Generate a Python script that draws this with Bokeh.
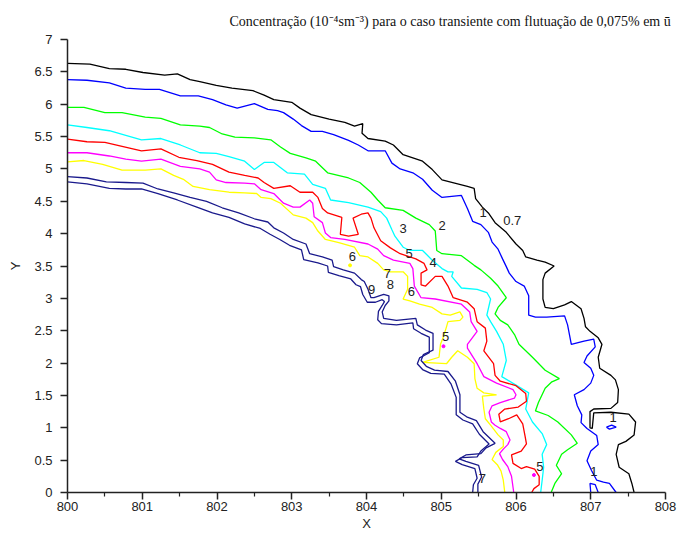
from bokeh.plotting import figure
from bokeh.models import FixedTicker, CustomJSTickFormatter
from bokeh.core.properties import value
from bokeh.embed import file_html
from bokeh.resources import INLINE

# ---- contour level 0.7 (black)
c07_x = [800.00, 800.30, 800.56, 800.78, 801.01, 801.30, 801.47, 801.64, 801.77, 801.99, 802.20, 802.48, 802.63, 802.76,
         803.00, 803.11, 803.26, 803.50, 803.71, 803.84, 803.95, 803.94, 804.02, 804.25, 804.36, 804.49, 804.62, 804.75,
         804.88, 805.01, 805.18, 805.35, 805.44, 805.46, 805.55, 805.63, 805.72, 805.87, 806.00, 806.09, 806.13, 806.28,
         806.39, 806.51, 806.39, 806.36, 806.36, 806.39, 806.50, 806.65, 806.74, 806.87, 806.91, 806.93, 806.99, 807.10,
         807.15, 807.10, 807.12, 807.27, 807.33, 807.37, 807.36, 807.27, 807.04, 806.99, 806.99, 807.02, 807.04, 807.27,
         807.51, 807.60, 807.58, 807.47, 807.37, 807.34, 807.38, 807.51, 807.55, 807.58]
c07_y = [6.63, 6.62, 6.55, 6.54, 6.49, 6.45, 6.47, 6.38, 6.35, 6.29, 6.25, 6.21, 6.14, 6.07,
         6.03, 5.94, 5.84, 5.77, 5.72, 5.66, 5.70, 5.55, 5.47, 5.43, 5.37, 5.22, 5.17, 5.12,
         4.99, 4.83, 4.78, 4.73, 4.70, 4.54, 4.41, 4.32, 4.17, 4.02, 3.84, 3.74, 3.64, 3.59,
         3.56, 3.50, 3.39, 3.29, 2.99, 2.86, 2.84, 2.90, 2.95, 2.84, 2.69, 2.56, 2.49, 2.39,
         2.29, 2.09, 1.92, 1.81, 1.74, 1.59, 1.39, 1.30, 1.29, 1.25, 1.00, 0.99, 1.23, 1.24,
         1.21, 1.09, 0.89, 0.79, 0.74, 0.59, 0.39, 0.29, 0.14, 0.00]

# ---- contour level 1 (blue)
c1_x = [800.00, 800.26, 800.56, 800.78, 801.04, 801.23, 801.51, 801.75, 801.94, 802.12, 802.27, 802.50, 802.68, 802.81,
        802.89, 803.02, 803.13, 803.26, 803.41, 803.56, 803.76, 803.89, 804.02, 804.25, 804.34, 804.45, 804.62, 804.75,
        804.88, 805.01, 805.27, 805.35, 805.42, 805.53, 805.63, 805.68, 805.76, 805.82, 805.87, 805.91, 806.00, 806.11,
        806.17, 806.17, 806.26, 806.41, 806.65, 806.69, 806.74, 806.91, 807.04, 807.06, 806.95, 806.91, 807.00, 807.04,
        807.00, 806.91, 806.78, 806.82, 806.88, 806.87, 806.95, 807.08, 807.10, 807.00, 806.95, 807.01, 807.08, 807.17,
        807.25, 807.34]
c1_y = [6.38, 6.37, 6.33, 6.25, 6.23, 6.23, 6.13, 6.13, 6.07, 5.99, 5.94, 6.01, 5.92, 5.90,
        5.87, 5.77, 5.67, 5.58, 5.58, 5.53, 5.44, 5.37, 5.28, 5.28, 5.09, 5.00, 4.94, 4.84,
        4.67, 4.56, 4.59, 4.39, 4.19, 4.14, 4.02, 3.87, 3.76, 3.61, 3.49, 3.39, 3.26, 3.19,
        3.04, 2.74, 2.71, 2.71, 2.73, 2.59, 2.29, 2.34, 2.37, 2.25, 2.11, 2.01, 1.92, 1.81,
        1.69, 1.59, 1.51, 1.34, 1.20, 1.08, 0.99, 0.88, 0.74, 0.64, 0.49, 0.34, 0.19, 0.16,
        0.14, 0.00]
c1b_x = [807.21, 807.28, 807.34, 807.25, 807.21]
c1b_y = [1.01, 1.04, 1.01, 0.98, 1.01]
c1c_x = [807.00, 806.99, 807.06, 807.10]
c1c_y = [0.00, 0.14, 0.12, 0.00]

# ---- contour level 2 (green)
c2_x = [800.00, 800.22, 800.50, 800.73, 801.04, 801.25, 801.51, 801.77, 801.90, 802.07, 802.24, 802.50, 802.72, 802.85,
        802.98, 803.19, 803.32, 803.48, 803.76, 803.91, 804.06, 804.15, 804.25, 804.49, 804.66, 804.84, 804.92, 804.94,
        805.01, 805.27, 805.44, 805.53, 805.66, 805.76, 805.87, 805.76, 805.72, 805.79, 805.89, 805.98, 806.04, 806.22,
        806.39, 806.58, 806.48, 806.39, 806.30, 806.26, 806.43, 806.56, 806.74, 806.82, 806.69, 806.61, 806.54, 806.61,
        806.52, 806.47]
c2_y = [5.95, 5.95, 5.87, 5.87, 5.80, 5.78, 5.68, 5.66, 5.64, 5.54, 5.49, 5.48, 5.45, 5.34,
        5.24, 5.17, 5.12, 4.94, 4.86, 4.79, 4.64, 4.52, 4.40, 4.36, 4.24, 4.14, 4.04, 3.74,
        3.69, 3.66, 3.51, 3.44, 3.31, 3.19, 3.01, 2.86, 2.76, 2.66, 2.59, 2.44, 2.29, 2.09,
        1.89, 1.76, 1.71, 1.61, 1.39, 1.26, 1.19, 1.09, 0.89, 0.76, 0.66, 0.59, 0.42, 0.29,
        0.14, 0.00]

# ---- contour level 3 (cyan)
c3_x = [800.00, 800.26, 800.56, 800.78, 800.99, 801.25, 801.51, 801.77, 801.99, 802.16, 802.37, 802.50, 802.63, 802.76,
        802.94, 803.17, 803.28, 803.45, 803.52, 803.76, 804.02, 804.19, 804.27, 804.34, 804.38, 804.49, 804.58, 804.75,
        804.88, 805.01, 805.09, 805.16, 805.14, 805.27, 805.48, 805.61, 805.66, 805.61, 805.66, 805.74, 805.83, 805.87,
        805.81, 806.00, 806.17, 806.13, 806.22, 806.35, 806.41, 806.35, 806.37, 806.35, 806.33]
c3_y = [5.68, 5.64, 5.59, 5.52, 5.45, 5.47, 5.37, 5.25, 5.24, 5.19, 5.12, 4.99, 5.10, 5.10,
        4.94, 4.92, 4.76, 4.70, 4.52, 4.48, 4.41, 4.34, 4.24, 4.06, 3.96, 3.79, 3.74, 3.74,
        3.59, 3.46, 3.41, 3.41, 3.34, 3.16, 3.14, 3.09, 2.99, 2.74, 2.64, 2.49, 2.29, 2.04,
        1.79, 1.66, 1.54, 1.29, 1.09, 0.91, 0.74, 0.59, 0.39, 0.19, 0.00]

# ---- contour level 4 (red)
c4_x = [800.00, 800.26, 800.50, 800.73, 800.99, 801.25, 801.49, 801.73, 801.94, 802.16, 802.37, 802.55, 802.63, 802.76,
        802.98, 803.11, 803.28, 803.35, 803.41, 803.48, 803.67, 803.65, 803.76, 803.89, 803.82, 803.93, 804.02, 804.06,
        804.10, 804.19, 804.32, 804.45, 804.66, 804.77, 804.81, 804.73, 804.73, 804.79, 804.92, 805.01, 805.09, 805.16,
        805.35, 805.44, 805.48, 805.59, 805.61, 805.57, 805.70, 805.72, 805.79, 806.00, 806.13, 806.14, 806.03, 805.85,
        805.77, 805.79, 805.90, 806.01, 806.09, 806.12, 806.14, 806.07, 805.94, 805.96, 806.07, 806.14, 806.25, 806.31,
        806.31, 806.24, 806.21]
c4_y = [5.46, 5.42, 5.41, 5.35, 5.28, 5.31, 5.18, 5.13, 5.07, 4.95, 4.90, 4.86, 4.79, 4.70,
        4.74, 4.64, 4.64, 4.56, 4.39, 4.32, 4.25, 3.99, 3.96, 3.99, 4.24, 4.30, 4.32, 4.24,
        4.09, 3.89, 3.78, 3.69, 3.61, 3.54, 3.44, 3.39, 3.21, 3.19, 3.34, 3.34, 3.19, 3.01,
        2.94, 2.84, 2.64, 2.54, 2.34, 2.19, 1.99, 1.81, 1.72, 1.65, 1.53, 1.41, 1.32, 1.29,
        1.21, 1.09, 1.14, 1.20, 1.06, 0.88, 0.75, 0.64, 0.58, 0.45, 0.37, 0.40, 0.36, 0.25,
        0.12, 0.06, 0.00]

# ---- contour level 5 (magenta)
c5_x = [800.00, 800.26, 800.56, 800.78, 800.99, 801.25, 801.51, 801.77, 801.90, 801.99, 802.12, 802.37, 802.50, 802.59,
        802.76, 802.89, 803.02, 803.11, 803.24, 803.28, 803.30, 803.41, 803.45, 803.52, 803.71, 804.02, 804.15, 804.23,
        804.36, 804.58, 804.62, 804.64, 804.73, 804.92, 805.27, 805.38, 805.40, 805.48, 805.35, 805.35, 805.48, 805.57,
        805.74, 805.96, 806.00, 805.98, 805.79, 805.68, 805.64, 805.67, 805.72, 805.79, 805.87, 805.92, 805.89, 805.83,
        805.78, 805.82, 805.89, 805.94, 805.97]
c5_y = [5.25, 5.25, 5.20, 5.15, 5.12, 5.15, 5.04, 5.00, 4.95, 4.83, 4.79, 4.78, 4.77, 4.68,
        4.62, 4.47, 4.41, 4.41, 4.52, 4.47, 4.26, 4.17, 4.01, 3.94, 3.91, 3.84, 3.76, 3.66,
        3.59, 3.54, 3.46, 3.19, 3.01, 2.99, 2.91, 2.79, 2.64, 2.49, 2.29, 2.23, 1.99, 1.79,
        1.69, 1.59, 1.51, 1.46, 1.39, 1.34, 1.24, 1.09, 1.04, 0.99, 0.94, 0.81, 0.74, 0.67,
        0.60, 0.51, 0.40, 0.25, 0.00]
c5_dots_x = [805.03, 806.24]
c5_dots_y = [2.26, 0.27]

# ---- contour level 6 (yellow)
c6_x = [800.00, 800.22, 800.47, 800.73, 801.04, 801.25, 801.42, 801.55, 801.68, 801.90, 802.16, 802.37, 802.53, 802.59,
        802.72, 802.85, 803.02, 803.19, 803.28, 803.35, 803.45, 803.63, 803.84, 803.91, 804.02, 804.15, 804.23, 804.32,
        804.49, 804.55, 804.55, 804.49, 804.58, 804.71, 804.88, 805.01, 805.12, 805.25, 805.29, 805.25, 805.09, 805.07,
        805.03, 804.99, 804.97, 804.75, 805.07, 805.14, 805.22, 805.35, 805.44, 805.45, 805.48, 805.57, 805.74, 805.55,
        805.57, 805.59, 805.66, 805.76, 805.83, 805.83, 805.73, 805.68, 805.75, 805.80, 805.83, 805.85]
c6_y = [5.11, 5.13, 5.07, 4.98, 4.98, 5.00, 4.90, 4.84, 4.73, 4.68, 4.64, 4.63, 4.62, 4.56,
        4.54, 4.47, 4.29, 4.24, 4.17, 4.04, 3.91, 3.86, 3.79, 3.66, 3.64, 3.54, 3.44, 3.41,
        3.41, 3.34, 3.14, 2.99, 2.96, 2.91, 2.86, 2.76, 2.74, 2.79, 2.71, 2.66, 2.64, 2.56,
        2.41, 2.29, 2.09, 2.01, 1.99, 2.09, 2.19, 2.09, 1.99, 1.76, 1.61, 1.54, 1.51, 1.49,
        1.29, 1.14, 1.04, 0.89, 0.81, 0.71, 0.62, 0.51, 0.43, 0.33, 0.19, 0.00]
c6_dot_x = [803.78]
c6_dot_y = [3.51]

# ---- contour levels 7/8 (navy, outer)
c8_x = [800.00, 800.26, 800.52, 800.78, 801.01, 801.21, 801.42, 801.64, 801.86, 802.07, 802.29, 802.50, 802.68, 802.76,
        802.89, 803.02, 803.19, 803.24, 803.41, 803.54, 803.56, 803.69, 803.84, 803.93, 803.97, 804.02, 804.06, 804.10,
        804.23, 804.30, 804.30, 804.25, 804.21, 804.23, 804.40, 804.66, 804.68, 804.79, 804.89, 804.89, 804.76, 804.73,
        804.80, 804.91, 805.09, 805.19, 805.25, 805.25, 805.34, 805.47, 805.56, 805.72, 805.60, 805.53, 805.33, 805.24,
        805.33, 805.50, 805.54, 805.49, 805.49]
c8_y = [4.88, 4.86, 4.80, 4.79, 4.78, 4.69, 4.63, 4.56, 4.50, 4.40, 4.32, 4.23, 4.18, 4.09,
        4.01, 3.91, 3.84, 3.69, 3.64, 3.59, 3.49, 3.44, 3.39, 3.29, 3.26, 3.14, 3.01, 3.01,
        3.06, 3.04, 2.96, 2.89, 2.79, 2.69, 2.66, 2.69, 2.59, 2.51, 2.46, 2.20, 2.13, 2.04,
        1.95, 1.89, 1.87, 1.72, 1.51, 1.24, 1.17, 1.11, 0.94, 0.76, 0.69, 0.60, 0.58, 0.52,
        0.48, 0.42, 0.24, 0.13, 0.00]

# ---- contour level 9 (navy, inner)
c9_x = [800.00, 800.26, 800.56, 800.78, 800.99, 801.21, 801.47, 801.73, 801.94, 802.16, 802.37, 802.58, 802.71, 802.84,
        802.97, 803.13, 803.16, 803.35, 803.48, 803.49, 803.63, 803.79, 803.86, 803.92, 803.95, 804.01, 804.12, 804.21,
        804.24, 804.21, 804.16, 804.15, 804.20, 804.40, 804.62, 804.63, 804.73, 804.84, 804.84, 804.71, 804.68, 804.75,
        804.86, 805.04, 805.13, 805.20, 805.20, 805.29, 805.42, 805.51, 805.64, 805.53, 805.48, 805.28, 805.19, 805.28,
        805.45, 805.48, 805.43, 805.42]
c9_y = [4.80, 4.77, 4.70, 4.69, 4.69, 4.62, 4.52, 4.41, 4.32, 4.25, 4.15, 4.08, 3.99, 3.91,
        3.82, 3.75, 3.60, 3.55, 3.50, 3.40, 3.35, 3.30, 3.21, 3.18, 3.06, 2.94, 2.94, 2.98,
        2.95, 2.89, 2.80, 2.67, 2.61, 2.59, 2.62, 2.53, 2.46, 2.40, 2.16, 2.08, 1.99, 1.90,
        1.84, 1.83, 1.68, 1.47, 1.20, 1.12, 1.06, 0.90, 0.75, 0.64, 0.55, 0.54, 0.48, 0.43,
        0.37, 0.22, 0.12, 0.00]

# ---- contour labels
lab_text = ["1", "0.7", "2", "3", "5", "4", "6", "7", "8", "9", "6", "5", "1", "1", "5", "7"]
lab_x = [805.56, 805.95, 805.01, 804.49, 804.57, 804.89, 803.81, 804.28, 804.32, 804.07, 804.60, 805.06,
         807.30, 807.04, 806.32, 805.55]
lab_y = [4.32, 4.20, 4.13, 4.08, 3.69, 3.55, 3.65, 3.39, 3.21, 3.14, 3.10, 2.41,
         1.16, 0.33, 0.40, 0.21]

# ---- axes
x_ticks = [800, 801, 802, 803, 804, 805, 806, 807, 808]
x_minor = [800.5, 801.5, 802.5, 803.5, 804.5, 805.5, 806.5, 807.5]
y_ticks = [0, 0.5, 1, 1.5, 2, 2.5, 3, 3.5, 4, 4.5, 5, 5.5, 6, 6.5, 7]

title_text = "Concentração (10⁻⁴sm⁻³)  para o caso transiente com flutuação de 0,075% em ū"

p = figure(width=677, height=533, x_range=(800, 808), y_range=(0, 7),
           output_backend="svg", toolbar_location=None,
           min_border_left=67, min_border_right=12, min_border_top=39, min_border_bottom=20)
p.title.text = title_text
p.title.text_font = "Liberation Serif"
p.title.text_font_style = "normal"
p.title.text_font_size = "14px"
p.title.text_color = "#111111"
p.title.align = "left"
p.title.offset = 162
p.title.standoff = 22

p.xgrid.visible = False
p.ygrid.visible = False
p.outline_line_color = None

fmt = CustomJSTickFormatter(code="return tick.toString();")
for ax in (p.xaxis[0], p.yaxis[0]):
    ax.formatter = fmt
    ax.axis_line_color = "#222222"
    ax.axis_line_width = 1.5
    ax.major_tick_line_color = "#222222"
    ax.major_tick_line_width = 1.5
    ax.minor_tick_line_color = "#222222"
    ax.minor_tick_line_width = 1.2
    ax.major_tick_in = 0
    ax.major_tick_out = 7
    ax.minor_tick_in = 0
    ax.major_label_text_font = "Liberation Sans"
    ax.major_label_text_font_size = "13px"
    ax.major_label_text_color = "#222222"
    ax.axis_label_text_font = "Liberation Sans"
    ax.axis_label_text_font_size = "13px"
    ax.axis_label_text_font_style = "normal"
    ax.axis_label_text_color = "#222222"

p.xaxis[0].ticker = FixedTicker(ticks=x_ticks, minor_ticks=x_minor)
p.xaxis[0].minor_tick_out = 4
p.xaxis[0].major_label_standoff = 2
p.xaxis[0].axis_label = "X"
p.xaxis[0].axis_label_standoff = 2
p.yaxis[0].ticker = FixedTicker(ticks=y_ticks, minor_ticks=[])
p.yaxis[0].minor_tick_out = 0
p.yaxis[0].major_label_standoff = 8
p.yaxis[0].axis_label = "Y"
p.yaxis[0].axis_label_standoff = 8

lw = 1.3
p.line(c07_x, c07_y, line_color="#000000", line_width=lw)
p.line(c1_x, c1_y, line_color="#0000FF", line_width=lw)
p.line(c1b_x, c1b_y, line_color="#0000FF", line_width=lw)
p.line(c1c_x, c1c_y, line_color="#0000FF", line_width=lw)
p.line(c2_x, c2_y, line_color="#00FF00", line_width=lw)
p.line(c3_x, c3_y, line_color="#00FFFF", line_width=lw)
p.line(c4_x, c4_y, line_color="#FF0000", line_width=lw)
p.line(c5_x, c5_y, line_color="#FF00FF", line_width=lw)
p.scatter(c5_dots_x, c5_dots_y, size=3, color="#FF00FF")
p.line(c6_x, c6_y, line_color="#FFFF00", line_width=lw)
p.scatter(c6_dot_x, c6_dot_y, size=3, color="#FFFF00")
p.line(c8_x, c8_y, line_color="#1A1A8C", line_width=lw)
p.line(c9_x, c9_y, line_color="#1A1A8C", line_width=lw)

p.text(x=lab_x, y=lab_y, text=lab_text, text_align="center", text_baseline="middle",
       text_font=value("Liberation Sans"), text_font_size="13px", text_color="#222222")

open("out.html", "w").write(file_html(p, INLINE))
